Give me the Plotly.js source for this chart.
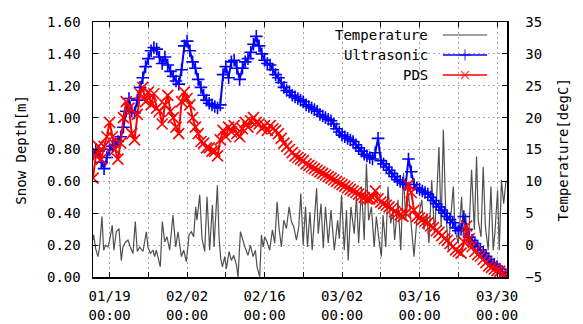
<!DOCTYPE html>
<html><head><meta charset="utf-8">
<script src="https://cdn.plot.ly/plotly-3.0.1.min.js"></script>
<style>html,body{margin:0;padding:0;background:#fff;} #chart{width:583px;height:324px;}</style>
</head><body><div id="chart"></div>
<script>
// ---- data ----
const startDate = Date.UTC(2013, 0, 16);   // first sample, 01/16 00:00
const snowStepDays = 0.5;                  // snow-depth readings every 12 h

const ultrasonic = [
 0.77,0.80,0.79,0.72,0.68,0.75,0.80,0.82,0.83,0.85,
 0.88,0.94,1.04,1.12,1.04,1.03,1.11,1.19,1.25,1.32,
 1.37,1.42,1.44,1.43,1.38,1.34,1.38,1.33,1.29,1.26,
 1.23,1.21,1.30,1.45,1.48,1.42,1.35,1.31,1.24,1.19,
 1.14,1.11,1.09,1.08,1.07,1.06,1.08,1.27,1.32,1.25,
 1.35,1.36,1.31,1.24,1.31,1.35,1.37,1.41,1.46,1.51,
 1.45,1.40,1.36,1.34,1.33,1.30,1.27,1.25,1.22,1.19,
 1.17,1.16,1.14,1.13,1.12,1.11,1.10,1.08,1.07,1.06,
 1.05,1.04,1.02,1.01,1.00,0.99,0.98,0.96,0.93,0.91,
 0.89,0.88,0.87,0.86,0.85,0.83,0.81,0.79,0.77,0.76,
 0.75,0.74,0.78,0.87,0.73,0.71,0.69,0.67,0.65,0.63,
 0.61,0.60,0.59,0.58,0.74,0.66,0.58,0.56,0.55,0.54,
 0.53,0.52,0.50,0.48,0.46,0.44,0.42,0.40,0.38,0.36,
 0.34,0.31,0.29,0.30,0.38,0.30,0.25,0.23,0.21,0.19,
 0.17,0.15,0.13,0.11,0.09,0.08,0.065,0.05,0.03,0.01
];

const pds = [
 0.62,0.76,0.82,0.74,0.82,0.88,0.97,0.88,0.80,0.74,
 0.84,1.00,1.10,1.06,0.90,0.86,1.02,1.15,1.19,1.10,
 1.16,1.08,1.15,1.06,1.04,0.96,1.08,1.14,1.04,1.00,
 0.94,0.90,1.10,1.16,1.12,1.08,1.00,0.94,0.90,0.85,
 0.84,0.81,0.81,0.79,0.79,0.76,0.86,0.92,0.88,0.94,
 0.91,0.95,0.90,0.88,0.93,0.97,0.94,0.98,1.00,0.97,
 0.96,0.93,0.95,0.92,0.95,0.93,0.92,0.90,0.87,0.84,
 0.82,0.80,0.78,0.76,0.75,0.74,0.73,0.71,0.70,0.69,
 0.68,0.67,0.66,0.65,0.64,0.63,0.62,0.61,0.60,0.59,
 0.58,0.57,0.56,0.55,0.54,0.53,0.52,0.51,0.50,0.49,
 0.49,0.50,0.54,0.49,0.47,0.46,0.45,0.44,0.43,0.41,
 0.40,0.39,0.38,0.40,0.58,0.53,0.42,0.38,0.37,0.36,
 0.35,0.34,0.32,0.31,0.29,0.28,0.26,0.24,0.23,0.21,
 0.19,0.17,0.16,0.15,0.22,0.32,0.24,0.19,0.16,0.14,
 0.13,0.11,0.09,0.07,0.06,0.05,0.04,0.035,0.02,0.01
];

// temperature: reading time (days after 01/16 00:00) and value [degC]
const tempDays = [
 0.00,0.11,0.47,0.89,1.19,1.62,1.92,2.28,2.70,3.00,3.48,3.78,4.21,4.69,5.11,5.41,5.90,6.32,6.74,7.22,
 7.64,8.00,8.43,9.03,9.63,9.93,10.36,10.84,11.14,11.44,12.16,12.52,12.95,13.37,13.85,14.45,14.94,15.36,15.96,16.38,
 16.86,17.35,17.77,18.19,18.55,18.79,19.28,19.70,20.18,20.60,21.08,21.57,21.87,22.47,22.77,23.07,23.38,23.80,24.10,24.58,
 25.00,25.43,25.91,26.21,26.63,27.11,27.53,28.00,28.44,28.92,29.34,29.64,30.12,30.43,30.73,31.03,31.45,31.93,32.42,32.84,
 33.26,33.62,34.04,34.47,34.95,35.43,35.85,36.27,36.76,37.18,37.55,37.97,38.40,38.75,39.20,39.60,40.40,40.70,41.20,41.60,
 42.00,42.50,43.00,43.60,44.20,44.50,44.90,45.40,45.80,46.10,46.60,47.20,47.60,48.00,48.50,49.00,49.40,49.80,50.30,50.80,
 51.20,51.60,52.10,52.40,52.90,53.30,53.80,54.20,54.50,55.10,55.60,56.10,56.50,57.00,57.60,58.00,58.50,58.90,59.40,59.80,
 60.30,60.70,61.20,61.70,62.10,62.50,62.90,63.30,63.70,64.20,64.70,65.10,65.40,66.00,66.60,66.90,67.30,67.80,68.40,68.90,
 69.30,69.60,70.10,70.50,70.90,71.40,71.90,72.30,72.60,73.10,73.40,73.80,74.20,74.60
];
const tempValues = [
 0.8,1.6,-0.5,-1.8,-0.3,4.5,-0.8,0.0,-0.3,0.8,3.1,-0.8,2.1,2.6,-2.4,-0.3,0.5,0.8,-0.3,-1.3,
 3.7,-1.0,-0.3,-1.0,2.1,-0.3,-1.3,-0.8,-1.8,-0.8,-3.4,3.7,0.5,1.3,-0.8,4.7,-0.3,2.1,-1.8,-0.8,
 -2.6,1.6,2.1,1.3,6.0,3.9,7.9,1.0,-1.0,7.6,-0.8,6.3,-0.3,9.4,1.3,-2.1,-3.4,-1.8,-3.7,-1.0,
 -2.4,-1.6,-3.1,-5.0,2.1,0.5,-0.5,-1.6,0.0,-1.8,-0.8,-3.4,-5.0,1.6,-0.3,1.3,0.5,-0.8,2.4,0.3,
 6.8,2.6,-0.3,3.9,2.6,6.0,3.7,2.9,0.8,2.9,8.1,0.0,6.0,-0.3,5.2,-0.8,8.9,1.8,6.5,-0.5,
 6.0,0.3,5.5,-0.8,3.9,1.0,7.9,-0.8,5.5,-2.4,6.0,1.8,7.6,0.3,9.2,0.8,12.8,3.9,6.0,-0.3,
 4.5,1.3,-1.8,4.7,-0.3,9.2,3.4,5.5,0.8,7.1,-0.8,11.3,3.9,8.1,1.3,-1.8,3.9,5.0,7.1,2.4,
 5.0,0.3,10.2,1.8,7.6,15.4,2.9,18.1,6.0,-0.8,5.0,9.2,2.4,0.3,7.6,1.3,5.0,-0.5,11.8,2.4,
 13.9,3.9,1.3,12.3,2.9,-0.8,9.2,-0.8,1.8,8.6,-0.8,10.2,6.5,9.9
];

const seriesNames = ['Temperature', 'Ultrasonic', 'PDS'];
const xTickDates = ['2013-01-19','2013-01-26','2013-02-02','2013-02-09','2013-02-16','2013-02-23',
                    '2013-03-02','2013-03-09','2013-03-16','2013-03-23','2013-03-30'];
const xTickLabels = ['01/19<br>00:00','','02/02<br>00:00','','02/16<br>00:00','',
                     '03/02<br>00:00','','03/16<br>00:00','','03/30<br>00:00'];
const snowTicks = [0, 0.2, 0.4, 0.6, 0.8, 1.0, 1.2, 1.4, 1.6];
const tempTicks = [-5, 0, 5, 10, 15, 20, 25, 30, 35];
const snowTitle = 'Snow Depth[m]';
const tempTitle = 'Temperature[degC]';

// ---- build ----
function dayToStr(d) {
  return new Date(startDate + d * 86400000).toISOString().slice(0, 19).replace('T', ' ');
}
const snowTimes = ultrasonic.map((_, i) => dayToStr(i * snowStepDays));
const tempTimes = tempDays.map(dayToStr);

const FONT = {family: '"DejaVu Sans Mono", "Liberation Mono", monospace', size: 14, color: '#000'};
const GRID = '#a8a8a8';
const GRIDDASH = '2px,3px';
const BLUE = '#0000ff', RED = '#ff0000', GRAY = '#505050', LEGGRAY = '#808080';

const traces = [
  {x: tempTimes, y: tempValues, xaxis: 'x', yaxis: 'y', mode: 'lines', name: seriesNames[0],
   line: {color: GRAY, width: 1.2}, hoverinfo: 'skip'},
  {x: snowTimes, y: ultrasonic, xaxis: 'x', yaxis: 'y2', mode: 'lines+markers', name: seriesNames[1],
   line: {color: BLUE, width: 2}, marker: {symbol: 'cross-thin-open', size: 9, color: BLUE, line: {color: BLUE, width: 1.6}}},
  {x: snowTimes, y: pds, xaxis: 'x', yaxis: 'y2', mode: 'lines+markers', name: seriesNames[2],
   line: {color: RED, width: 2}, marker: {symbol: 'x-thin-open', size: 11, color: RED, line: {color: RED, width: 1.6}}}
];

// legend drawn gnuplot-style (text left, sample right) on a hidden 0..1 overlay
const legX0 = 0.845, legX1 = 0.952, legXm = (legX0 + legX1) / 2, legTextX = 0.814;
const legRows = [0.949, 0.871, 0.792];
traces.push({x: [legX0, legX1], y: [legRows[0], legRows[0]], xaxis: 'x2', yaxis: 'y3', mode: 'lines',
  line: {color: LEGGRAY, width: 1.5}, hoverinfo: 'skip'});
traces.push({x: [legX0, legXm, legX1], y: [legRows[1], legRows[1], legRows[1]], xaxis: 'x2', yaxis: 'y3', mode: 'lines+markers',
  line: {color: BLUE, width: 1.5}, marker: {symbol: 'cross-thin-open', size: [0, 8, 0], color: BLUE, line: {color: BLUE, width: 1.2}}, hoverinfo: 'skip'});
traces.push({x: [legX0, legXm, legX1], y: [legRows[2], legRows[2], legRows[2]], xaxis: 'x2', yaxis: 'y3', mode: 'lines+markers',
  line: {color: RED, width: 1.5}, marker: {symbol: 'x-thin-open', size: [0, 8, 0], color: RED, line: {color: RED, width: 1.2}}, hoverinfo: 'skip'});

const annotations = seriesNames.map((n, i) => ({
  text: n, xref: 'paper', yref: 'paper', x: legTextX, y: legRows[i], xanchor: 'right', yanchor: 'middle',
  showarrow: false, font: FONT
}));
annotations.push({text: snowTitle, xref: 'paper', yref: 'paper', x: -0.176, y: 0.5, xanchor: 'center', yanchor: 'middle',
  textangle: -90, showarrow: false, font: FONT});
annotations.push({text: tempTitle, xref: 'paper', yref: 'paper', x: 1.135, y: 0.5, xanchor: 'center', yanchor: 'middle',
  textangle: -90, showarrow: false, font: FONT});

const layout = {
  width: 583, height: 324,
  margin: {l: 93, r: 76, t: 22, b: 47, pad: 0},
  paper_bgcolor: '#fff', plot_bgcolor: '#fff',
  showlegend: false, font: FONT,
  xaxis: {type: 'date', range: [dayToStr(0), dayToStr(74.8)], tickmode: 'array', tickvals: xTickDates, ticktext: xTickLabels,
    ticks: 'inside', ticklen: 5, tickcolor: '#000', showgrid: true, gridcolor: GRID, griddash: GRIDDASH, gridwidth: 1,
    showline: true, linecolor: '#000', linewidth: 1.5, mirror: 'ticks', zeroline: false, ticklabelstandoff: 6,
    tickfont: FONT, anchor: 'y'},
  yaxis: {range: [-5, 35], tickmode: 'array', tickvals: tempTicks, side: 'right', ticks: 'inside', ticklen: 5, tickcolor: '#000',
    showgrid: true, gridcolor: GRID, griddash: GRIDDASH, gridwidth: 1, showline: true, linecolor: '#000', linewidth: 1.5,
    zeroline: false, ticklabelstandoff: 14, tickfont: FONT},
  yaxis2: {range: [0, 1.6], tickmode: 'array', tickvals: snowTicks, tickformat: '.2f', side: 'left', overlaying: 'y',
    ticks: 'inside', ticklen: 5, tickcolor: '#000', showgrid: false, showline: true, linecolor: '#000', linewidth: 1.5,
    zeroline: false, ticklabelstandoff: 8, tickfont: FONT},
  xaxis2: {overlaying: 'x', range: [0, 1], visible: false, anchor: 'y3', fixedrange: true},
  yaxis3: {overlaying: 'y', range: [0, 1], visible: false, anchor: 'x2', fixedrange: true},
  annotations: annotations
};

Plotly.newPlot('chart', traces, layout, {staticPlot: true, displayModeBar: false});
</script>
</body></html>
